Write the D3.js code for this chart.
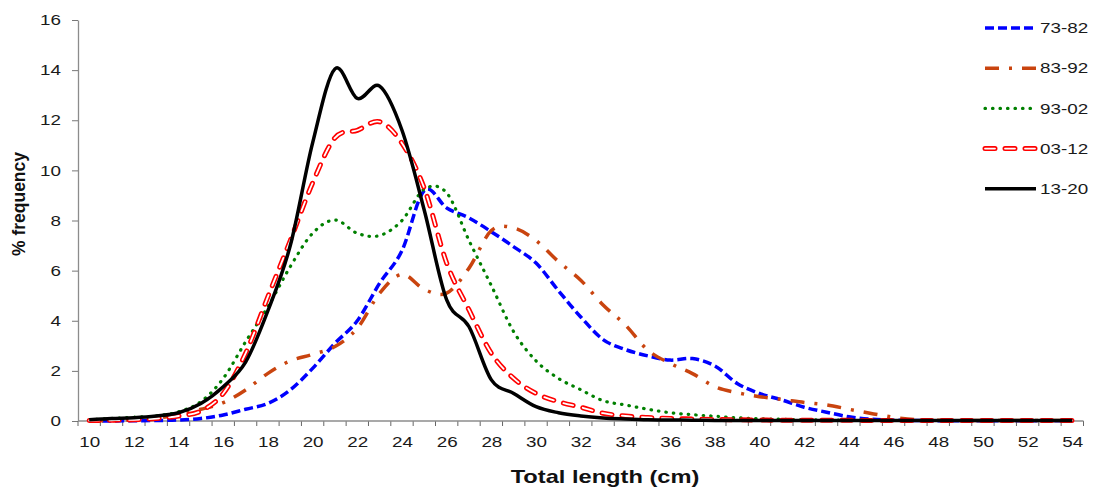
<!DOCTYPE html>
<html>
<head>
<meta charset="utf-8">
<script src="https://cdn.jsdelivr.net/npm/d3@7"></script>
<style>
html, body { margin: 0; padding: 0; background: #fff; }
svg { display: block; font-family: "Liberation Sans", Arial, sans-serif; }
</style>
</head>
<body>
<svg id="chart" width="1093" height="487"></svg>
<script>
// total length classes (cm)
const lengths = [10, 11, 12, 13, 14, 15, 16, 17, 18, 19, 20, 21, 22, 23, 24, 25, 26, 27, 28, 29, 30, 31, 32,
  33, 34, 35, 36, 37, 38, 39, 40, 41, 42, 43, 44, 45, 46, 47, 48, 49, 50, 51, 52, 53, 54];
const xTickLabels = [10, 12, 14, 16, 18, 20, 22, 24, 26, 28, 30, 32, 34, 36, 38, 40, 42, 44, 46, 48, 50, 52, 54];
const yTickLabels = [0, 2, 4, 6, 8, 10, 12, 14, 16];
const seriesNames = ["73-82", "83-92", "93-02", "03-12", "13-20"];

// % frequency per length class
const freq7382 = [0, 0, 0.01, 0.02, 0.04, 0.1, 0.24, 0.47, 0.7, 1.24, 2.1, 3.1, 4.0, 5.5, 6.8, 9.2, 8.5, 8.1,
  7.55, 6.95, 6.3, 5.2, 4.15, 3.25, 2.85, 2.6, 2.43, 2.49, 2.2, 1.5, 1.1, 0.84, 0.55, 0.35, 0.17, 0.07,
  0.03, 0.02, 0.01, 0.01, 0.01, 0.01, 0.01, 0.01, 0.01];
const freq8392 = [0, 0.02, 0.05, 0.1, 0.28, 0.47, 0.73, 1.24, 1.9, 2.4, 2.66, 2.97, 3.7, 5.1, 5.85, 5.25, 5.1,
  6.1, 7.6, 7.7, 7.2, 6.36, 5.62, 4.63, 3.83, 2.83, 2.3, 1.89, 1.37, 1.13, 0.97, 0.86, 0.74, 0.64, 0.47,
  0.3, 0.15, 0.05, 0.03, 0.02, 0.02, 0.02, 0.02, 0.02, 0.02];
const freq9302 = [0.05, 0.1, 0.15, 0.2, 0.37, 0.77, 1.7, 3.16, 4.56, 6.16, 7.49, 8.02, 7.49, 7.4, 8.0, 9.25,
  9.1, 7.2, 5.4, 3.56, 2.4, 1.7, 1.25, 0.81, 0.64, 0.47, 0.33, 0.25, 0.19, 0.13, 0.09, 0.07, 0.05, 0.04,
  0.03, 0.02, 0.02, 0.02, 0.02, 0.02, 0.02, 0.02, 0.02, 0.02, 0.02];
const freq0312 = [0.02, 0.03, 0.05, 0.1, 0.2, 0.4, 1.1, 2.7, 4.96, 7.2, 9.5, 11.3, 11.6, 11.94, 11.08, 9.28,
  6.3, 4.43, 2.7, 1.7, 1.1, 0.77, 0.55, 0.31, 0.2, 0.14, 0.1, 0.08, 0.06, 0.05, 0.04, 0.03, 0.03, 0.03,
  0.03, 0.02, 0.02, 0.02, 0.02, 0.02, 0.02, 0.02, 0.02, 0.02, 0.02];
const freq1320 = [0.05, 0.1, 0.13, 0.2, 0.33, 0.7, 1.37, 2.35, 4.4, 7.0, 11.1, 14.05, 12.87, 13.36, 11.6, 8.4,
  4.83, 3.76, 1.64, 1.1, 0.57, 0.33, 0.2, 0.12, 0.08, 0.05, 0.04, 0.03, 0.02, 0.02, 0.02, 0.02, 0.02, 0.02,
  0.02, 0.02, 0.02, 0.02, 0.02, 0.02, 0.02, 0.02, 0.02, 0.02, 0.02];
const seriesValues = [freq7382, freq8392, freq9302, freq0312, freq1320];

// line looks, one per series
const lineStyles = {
  "73-82": [{ color: "#0000ff", width: 3.5, dash: "9,4", cap: "butt" }],
  "83-92": [{ color: "#c9440f", width: 3.5, dash: "14,10,3,10", cap: "butt" }],
  "93-02": [{ color: "#008000", width: 3.2, dash: "0.5,7", cap: "round" }],
  "03-12": [{ color: "#ff0000", width: 5, dash: "10,10", cap: "round" },
            { color: "#ffffff", width: 1.8, dash: "10,10", cap: "round" }],
  "13-20": [{ color: "#000000", width: 3.5, dash: null, cap: "butt" }]
};

const stretch = 1.3; // the original picture is a bit wider than tall
const svg = d3.select("#chart");

const x = d3.scalePoint().domain(lengths).range([78, 1083.5]).padding(0.5);
const y = d3.scaleLinear().domain([0, 16]).range([421, 20]);
const step = x.step();

// y axis
const yAxis = svg.append("g")
  .attr("transform", "translate(78,0)")
  .call(d3.axisLeft(y).tickValues(yTickLabels).tickSize(6).tickSizeOuter(0));
yAxis.select(".domain").attr("stroke", "#8c8c8c").attr("stroke-width", 1.3);
yAxis.selectAll(".tick line").attr("stroke", "#777");
yAxis.selectAll(".tick text")
  .attr("x", -17 / stretch)
  .attr("transform", `scale(${stretch},1)`)
  .attr("fill", "#1a1a1a")
  .style("font-size", "14.5px");

// x axis: labels centred on the classes, ticks between them
const xAxis = svg.append("g")
  .attr("transform", "translate(0,421)")
  .call(d3.axisBottom(x).tickValues(xTickLabels).tickSize(0).tickSizeOuter(0));
xAxis.select(".domain").remove();
xAxis.selectAll(".tick text")
  .attr("y", 26.5)
  .attr("dy", null)
  .attr("transform", `scale(${stretch},1)`)
  .attr("fill", "#1a1a1a")
  .style("font-size", "14.5px");

const bounds = lengths.map(c => x(c) - step / 2).concat([x(lengths[lengths.length - 1]) + step / 2]);
xAxis.selectAll(".minor")
  .data(bounds)
  .enter()
  .append("line")
  .attr("class", "minor")
  .attr("x1", d => d).attr("x2", d => d)
  .attr("y1", 0).attr("y2", 5)
  .attr("stroke", "#666").attr("stroke-width", 1);
xAxis.append("line")
  .attr("x1", 78).attr("x2", bounds[bounds.length - 1])
  .attr("y1", 0).attr("y2", 0)
  .attr("stroke", "#8c8c8c").attr("stroke-width", 1.3);

// axis titles
svg.append("text")
  .attr("transform", "translate(605,483) scale(" + stretch + ",1)")
  .attr("text-anchor", "middle")
  .style("font-size", "18.2px").style("font-weight", "bold")
  .attr("fill", "#111")
  .text("Total length (cm)");
svg.append("text")
  .attr("transform", "translate(25,204) rotate(-90)")
  .attr("text-anchor", "middle")
  .style("font-size", "17.5px").style("font-weight", "bold")
  .attr("fill", "#111")
  .text("% frequency");

// series lines
const line = d3.line()
  .x((d, i) => x(lengths[i]))
  .y(d => y(d))
  .curve(d3.curveCardinal.tension(0));

seriesNames.forEach(function (name, k) {
  lineStyles[name].forEach(function (st) {
    svg.append("path")
      .datum(seriesValues[k])
      .attr("d", line)
      .attr("fill", "none")
      .attr("stroke", st.color)
      .attr("stroke-width", st.width)
      .attr("stroke-dasharray", st.dash)
      .attr("stroke-linecap", st.cap)
      .attr("stroke-linejoin", "round");
  });
});

// legend
const legend = svg.append("g").attr("transform", "translate(985,28)");
seriesNames.forEach(function (name, k) {
  const row = legend.append("g").attr("transform", `translate(0,${k * 40.2})`);
  lineStyles[name].forEach(function (st) {
    row.append("line")
      .attr("x1", 0).attr("x2", 51).attr("y1", 0).attr("y2", 0)
      .attr("stroke", st.color)
      .attr("stroke-width", st.width)
      .attr("stroke-dasharray", st.dash)
      .attr("stroke-linecap", st.cap);
  });
  row.append("text")
    .attr("transform", `translate(55,5.2) scale(${stretch},1)`)
    .style("font-size", "14.5px")
    .attr("fill", "#1a1a1a")
    .text(name);
});
</script>
</body>
</html>
